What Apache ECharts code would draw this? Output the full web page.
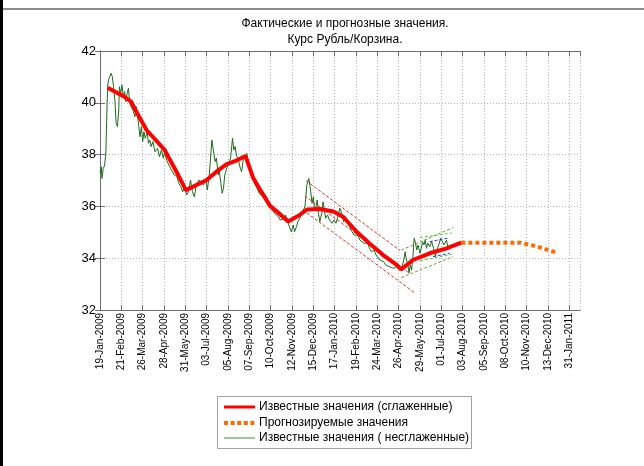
<!DOCTYPE html>
<html><head><meta charset="utf-8">
<script src="https://cdn.jsdelivr.net/npm/echarts@6/dist/echarts.min.js"></script>
<style>html,body{margin:0;padding:0;background:#fff}#c{width:644px;height:466px}</style>
</head><body><div id="c"></div>
<script>
// x values are day offsets from 19-Jan-2009
const xTickLabels = ['19-Jan-2009','21-Feb-2009','26-Mar-2009','28-Apr-2009','31-May-2009','03-Jul-2009','05-Aug-2009','07-Sep-2009','10-Oct-2009','12-Nov-2009','15-Dec-2009','17-Jan-2010','19-Feb-2010','24-Mar-2010','26-Apr-2010','29-May-2010','01-Jul-2010','03-Aug-2010','05-Sep-2010','08-Oct-2010','10-Nov-2010','13-Dec-2010','31-Jan-2011'];
const yTicks = [32,34,36,38,40,42];
const legendNames = ['Известные значения (сглаженные)','Прогнозируемые значения','Известные значения ( несглаженные)'];

const rawDays = [0,2,3,5,7,9,11,12,14,17,19,21,23,25,27,29,30,32,34,36,38,40,42,44,46,48,51,54,56,58,60,62,64,66,68,70,73,75,77,79,82,85,89,92,95,98,100,103,106,109,112,115,119,122,125,128,131,134,137,140,143,146,149,153,160,164,166,169,171,173,176,178,180,183,184,187,189,191,193,196,199,202,205,207,209,211,214,217,219,222,225,227,229,231,233,235,237,240,243,246,249,252,256,259,261,264,267,270,273,276,279,282,285,287,290,292,294,296,299,301,304,306,309,312,314,317,318,320,323,325,326,328,330,332,334,336,338,340,343,345,347,349,352,355,359,362,365,368,371,374,377,380,383,386,390,393,396,399,402,405,408,411,414,417,420,424,427,430,433,436,439,442,445,448,451,454,458,461,464,467,470,472,474,476,478,480,482,484,486,488,490,492,495,497,499,501,503,505,507,510,513,516,519,521,524,527,530,532,534,536,538,541,544];
const rawValues = [37.30,37.53,37.08,37.47,37.56,38.05,39.98,40.69,40.95,41.14,41.01,40.62,40.11,39.21,39.08,39.72,40.62,40.37,40.69,40.24,40.43,40.04,40.37,40.56,39.98,39.85,39.72,39.46,39.85,39.53,39.08,38.69,39.08,38.50,38.88,38.63,38.88,38.44,38.56,38.31,38.50,38.11,38.24,37.92,38.18,37.86,38.11,37.79,37.73,37.47,37.41,37.21,37.15,36.89,36.76,36.57,36.70,36.44,36.57,37.02,36.57,36.37,36.83,37.02,36.83,37.02,36.63,37.21,37.86,38.56,38.56,37.73,37.86,37.21,37.47,36.89,36.51,36.70,37.21,37.47,37.66,37.86,38.63,38.18,38.31,37.98,37.79,37.47,37.34,37.86,37.92,38.05,37.79,37.60,37.34,37.21,37.02,36.83,36.70,36.51,36.57,36.37,36.44,36.25,36.12,35.99,35.93,35.73,35.73,35.60,35.47,35.41,35.54,35.67,35.47,35.28,35.22,35.02,35.28,35.02,35.22,35.41,35.54,35.73,35.67,35.99,36.25,36.83,37.08,36.76,36.57,36.12,36.37,35.86,35.99,36.25,35.73,35.41,35.73,36.18,35.86,35.54,35.67,35.47,35.35,35.47,35.35,35.60,35.93,35.73,35.41,35.60,35.41,35.22,35.02,34.89,34.83,34.89,34.70,34.77,34.58,34.51,34.58,34.38,34.25,34.32,34.12,34.06,33.93,34.00,33.86,33.74,33.80,33.67,33.74,33.61,33.67,33.61,33.54,33.67,33.93,34.25,33.93,33.80,33.42,33.74,33.54,34.06,34.77,34.58,34.32,34.51,34.19,34.38,34.64,34.51,34.70,34.38,34.58,34.44,34.64,34.38,34.06,34.32,34.51,34.77,34.70,34.51,34.58,34.70,34.44,34.38,34.51];

const smoothDays = [12,39,48,59,72,100,121,133,165,180,196,211,225,237,250,263,276,291,309,320,340,361,376,397,417,438,459,466,484,510,536,559];
const smoothValues = [40.58,40.21,40.05,39.53,38.95,38.18,37.21,36.63,37.02,37.34,37.63,37.77,37.94,37.10,36.55,36.02,35.75,35.42,35.67,35.88,35.90,35.80,35.60,35.02,34.57,34.12,33.74,33.57,33.93,34.19,34.38,34.60];

const forecastDays = [559,650,665,680,695,708];
const forecastValues = [34.60,34.60,34.52,34.42,34.30,34.20];

// trend channel lines: [start day, end day] and [start value, end value]
const redChannelDays = [[319,464],[317,476],[314,487]];
const redChannelValues = [[36.99,34.30],[36.40,33.47],[35.86,32.66]];
const oliveChannelDays = [[466,546],[466,546]];
const oliveChannelValues = [[34.31,35.18],[33.25,34.06]];
const greenChannelDays = [[495,544],[495,544]];
const greenChannelValues = [[34.80,34.97],[33.90,34.15]];
const blueChannelDays = [[510,538],[515,541]];
const blueChannelValues = [[34.64,34.77],[34.06,34.19]];

const pair = (d, v) => d.map((x, i) => [x, v[i]]);

const chart = echarts.init(document.getElementById('c'), null, {renderer: 'canvas'});
const FONT = '"Liberation Sans", Arial, sans-serif';
const gridLine = {show: true, lineStyle: {color: '#b4b4b4', type: [1, 2], width: 1}};
const axisLine = {show: true, lineStyle: {color: '#6e6e6e', width: 1}};
const tick = {show: true, inside: true, length: 5, lineStyle: {color: '#6e6e6e'}};

function channelSeries(daysArr, valsArr, color) {
  return daysArr.map((d, i) => ({
    type: 'line', silent: true, symbol: 'none', z: 3,
    data: pair(d, valsArr[i]),
    lineStyle: {color: color, width: 1, type: [3, 2]}
  }));
}

const labelFmt = v => {
  const k = Math.round(v / 33);
  if (Math.abs(v - k * 33) > 0.01 || k >= xTickLabels.length) return '';
  return xTickLabels[k];
};

// legend drawn as graphic elements
const LX = 217.5, LY = 396.5, LW = 254, LH = 52;
const rowY = [407, 423, 438];
const legendGraphics = [
  {type: 'rect', shape: {x: LX, y: LY, width: LW, height: LH}, style: {fill: '#fff', stroke: '#a0a0a0', lineWidth: 1}, z: 50},
  {type: 'line', shape: {x1: 224, y1: rowY[0], x2: 255, y2: rowY[0]}, style: {stroke: '#ff0000', lineWidth: 3}, z: 51},
  {type: 'line', shape: {x1: 224, y1: rowY[1], x2: 256, y2: rowY[1]}, style: {stroke: '#ff6a00', lineWidth: 4, lineDash: [4, 2.6]}, z: 51},
  {type: 'line', shape: {x1: 224, y1: rowY[2], x2: 255, y2: rowY[2]}, style: {stroke: '#3f8f3f', lineWidth: 1}, z: 51}
].concat(legendNames.map((n, i) => ({
  type: 'text', x: 259, y: rowY[i], z: 51,
  style: {text: n, font: '12px ' + FONT, fill: '#000', verticalAlign: 'middle', align: 'left'}
})));

const option = {
  animation: false,
  backgroundColor: '#fff',
  title: {
    text: 'Фактические и прогнозные значения.\nКурс Рубль/Корзина.',
    left: 340, top: 11, textAlign: 'center',
    textStyle: {fontFamily: FONT, fontSize: 12, fontWeight: 'normal', color: '#000', lineHeight: 16}
  },
  grid: {left: 100, right: 64, top: 51, bottom: 156},
  xAxis: [
    {type: 'value', min: 0, max: 742.5, interval: 33, position: 'bottom',
     axisLine: axisLine, axisTick: tick, splitLine: gridLine,
     axisLabel: {rotate: 90, fontFamily: FONT, fontSize: 10, color: '#000', margin: 3, formatter: labelFmt, showMaxLabel: false}},
    {type: 'value', min: 0, max: 742.5, interval: 33, position: 'top',
     axisLine: axisLine, axisTick: tick, splitLine: {show: false}, axisLabel: {show: false}}
  ],
  yAxis: [
    {type: 'value', min: 32, max: 42, interval: 2, position: 'left',
     axisLine: axisLine, axisTick: tick, splitLine: gridLine,
     axisLabel: {fontFamily: FONT, fontSize: 13, color: '#000', margin: 4, formatter: v => yTicks.includes(v) ? String(v) : ''}},
    {type: 'value', min: 32, max: 42, interval: 2, position: 'right',
     axisLine: axisLine, axisTick: tick, splitLine: {show: false}, axisLabel: {show: false}}
  ],
  series: [
    {name: legendNames[2], type: 'line', symbol: 'none', z: 2,
     data: pair(rawDays, rawValues), lineStyle: {color: '#1d6b1d', width: 1}},
    ...channelSeries(redChannelDays, redChannelValues, '#e02828'),
    ...channelSeries(oliveChannelDays, oliveChannelValues, '#8c8c3c'),
    ...channelSeries(greenChannelDays, greenChannelValues, '#33d633'),
    ...channelSeries(blueChannelDays, blueChannelValues, '#3030d8'),
    {name: legendNames[0], type: 'line', symbol: 'none', z: 5,
     data: pair(smoothDays, smoothValues), lineStyle: {color: '#ff0000', width: 4}},
    {name: legendNames[1], type: 'line', symbol: 'none', z: 5,
     data: pair(forecastDays, forecastValues), lineStyle: {color: '#ff6a00', width: 4, type: [4, 3]}}
  ],
  graphic: [
    {type: 'rect', shape: {x: 0, y: 0, width: 3, height: 466}, style: {fill: '#000'}, z: 100},
    {type: 'rect', shape: {x: 3, y: 8, width: 641, height: 2}, style: {fill: '#8c8c8c'}, z: 100}
  ].concat(legendGraphics)
};
chart.setOption(option);
</script></body></html>
